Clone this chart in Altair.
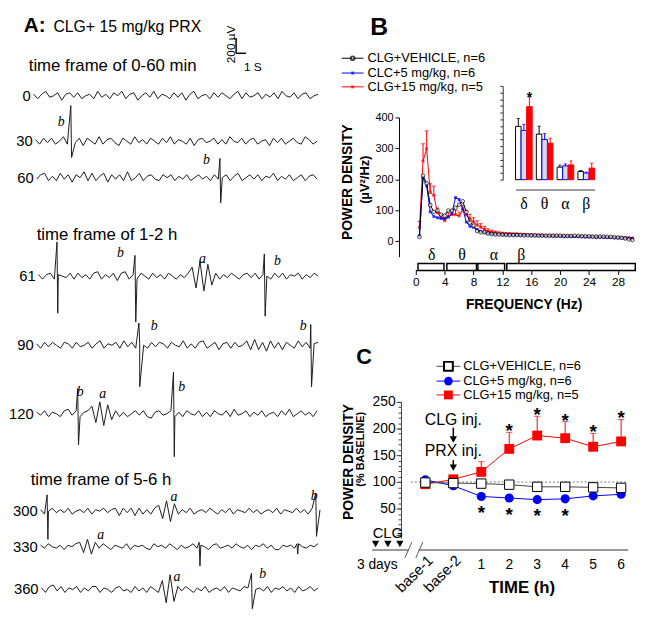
import altair as alt
import pandas as pd

FONT = "Liberation Sans"
SERIF = "Liberation Serif"
ONE = pd.DataFrame({"k": [0]})


def txt(s, x, y, size=13, weight="normal", align="left", baseline="middle",
        angle=0, font=FONT, style="normal", color="black"):
    return alt.Chart(ONE).mark_text(
        text=s, fontSize=size, fontWeight=weight, align=align, baseline=baseline,
        angle=angle, font=font, fontStyle=style, color=color
    ).encode(x=alt.value(x), y=alt.value(y))


def spacer(w, h):
    return alt.Chart(ONE).mark_point(opacity=0).encode(
        x=alt.value(0), y=alt.value(0)).properties(width=w, height=h)


# ======================= Panel A : EEG traces =======================
trace_names = ["0", "30", "60", "61", "90", "120", "300", "330", "360"]
trace_row_px = [82, 128, 165, 264.7, 334.7, 404, 502.7, 538.7, 582]
trace_t0 = [2.2, 2.4, 2.5, 2.7, 2.5, 2.5, 2.9, 2.9, 3.0]
trace_t1 = [31.0, 30.9, 30.9, 31.0, 31.0, 30.9, 31.2, 31.0, 31.0]

# background EEG (units of 20 uV)
eeg_0 = [1,-2,1,3,-1,0,2,-3,1,2,-1,2,-2,0,1,-2,3,-1,1,-2,2,0,3,-2,1,2,-3,0,2,-1,3,-2,1,0,-2,2,-1,2,-3,1,3,-2,0,1,-2,2,-1,2,0,-2,1,3,-2,2,-1,0,2,-2,1,-1,2,-2,3,0,-1,2,-2,1,2,-2,0,1]
eeg_30 = [1,-2,2,-1,2,-2,0,3,-2,1,-1,2,-3,2,0,-2,3,-2,1,2,-1,-3,2,0,-2,3,-1,1,-2,2,0,-2,2,-1,3,-2,1,0,-2,2,-3,1,2,-1,0,2,-2,1,-2,3,0,-1,2,-2,1,2,-2,0,1,-3,2,-1,2,-2,0,2,-1,-2,3,1,-2,0]
eeg_60 = [-1,2,3,-2,1,-2,3,-1,2,-3,2,0,4,-2,3,-2,1,3,-3,2,-1,2,-2,4,-2,0,3,-2,1,2,-1,-2,2,0,2,-2,1,-1,2,-2,0,2,-1,1,-2,2,-1,0,2,-2,1,3,-2,0,2,-1,2,-2,1,0,3,-2,1,-1,2,-2,0,2,-2,1,2,-1]
eeg_61 = [1,-2,1,2,-2,1,0,-1,2,-2,2,-1,1,-2,2,3,-2,1,-1,2,-3,2,3,-2,1,-2,2,0,-2,2,-1,1,-2,2,0,-2,1,-1,2,6,-8,10,-10,8,-6,2,-2,1,-1,2,0,-2,1,2,-1,2,-2,1,0,-2,2,-1,2,-2,1,0,2,-2,1,-1,2,0]
eeg_90 = [1,-2,2,-1,2,0,-2,2,1,-2,2,-1,0,2,-2,1,3,-2,1,0,2,-2,3,-1,2,-2,1,0,-2,2,-1,2,1,-2,2,0,-1,3,-2,1,-2,2,3,-2,0,2,-3,1,2,-2,2,-1,0,3,-3,4,-3,2,-4,3,-2,2,-3,2,0,-2,3,-1,2,-2,1,2]
eeg_120 = [1,-1,2,-2,1,0,-2,2,3,-1,2,-2,1,2,5,-6,8,-8,6,-4,2,-2,1,-2,0,2,-1,2,-2,-3,1,2,-1,0,2,-2,1,-2,2,0,-1,2,-2,1,-2,2,0,-1,2,-2,3,-1,0,2,-2,1,-1,2,-2,0,1,-2,2,-1,3,-2,0,2,-1,1,-2,2]
eeg_300 = [1,-2,0,2,-1,1,-1,2,-2,0,1,-1,2,-2,1,0,2,-1,1,2,-3,2,-1,2,-3,2,-2,1,-2,2,4,-5,7,-7,5,-2,1,-1,2,-2,0,1,-1,2,0,-2,1,-1,2,-2,1,0,-1,2,-1,1,-2,0,1,-1,2,-2,1,0,-1,2,-1,1,-2,2,0,1]
eeg_330 = [1,-1,2,0,-1,1,-2,1,0,2,3,-4,5,-5,3,-1,2,0,-2,1,0,-1,2,-2,1,0,1,-1,-2,2,0,1,-1,2,0,-2,1,-1,0,2,-1,1,0,-2,1,2,-1,0,1,-1,2,0,-1,1,-2,1,0,2,-1,1,-2,-2,1,0,1,-1,2,0,-1,1,0,2]
eeg_360 = [1,-2,2,3,-1,2,-2,1,0,2,-2,1,-1,2,2,-2,1,0,-2,1,2,-1,0,-2,2,-1,1,-2,2,0,-2,6,-9,10,-8,2,-1,2,0,-2,1,-1,2,-2,0,1,-1,2,-2,1,0,-1,2,1,-2,0,1,-1,2,-2,1,0,2,-1,1,-2,2,-1,0,2,-1,1]
eeg_lists = [eeg_0, eeg_30, eeg_60, eeg_61, eeg_90, eeg_120, eeg_300, eeg_330, eeg_360]

# spikes: trace index, time (s), positive and negative peak (20 uV units)
spike_trace = [1, 2, 3, 3, 3, 4, 4, 5, 5, 6, 6, 7, 7, 8]
spike_t = [6.0, 21.1, 4.6, 12.5, 25.6, 12.9, 30.3, 6.7, 16.4, 3.6, 30.8, 19.0, 28.9, 24.3]
spike_up = [24, 13, 23, 14, 15, 15, 14, 17, 28, 11, 12, 3, 2, 11]
spike_down = [-11, -17, -25, -31, -27, -28, -28, -21, -29, -19, -17, -13, -5, -13]

# hand-written "a"/"b" marks
ann_txt = ["b", "b", "b", "a", "b", "b", "b", "b", "a", "b", "a", "b", "a", "a", "b"]
ann_trace = [1, 2, 3, 3, 3, 4, 4, 5, 5, 5, 6, 6, 7, 8, 8]
ann_t = [5.0, 19.7, 11.0, 19.3, 26.9, 14.4, 29.5, 6.9, 9.2, 17.2, 16.4, 30.6, 9.0, 16.7, 25.4]
ann_up_px = [19, 18, 23.5, 17.7, 15.7, 19.7, 19.7, 22, 20, 27, 14.5, 15.7, 11.7, 13, 16]

A_W, A_H = 322, 601
UNIT_PX = 1.5  # px per 20 uV
ax_t = alt.Scale(domain=[0, A_W / 10], nice=False, zero=False)
ax_v = alt.Scale(domain=[0, A_H / UNIT_PX], nice=False, zero=False)


def base_of(k):
    return (A_H - trace_row_px[k]) / UNIT_PX


rows = []
for k, name in enumerate(trace_names):
    seq = eeg_lists[k]
    n = len(seq)
    for i, v in enumerate(seq):
        t = trace_t0[k] + (trace_t1[k] - trace_t0[k]) * i / (n - 1)
        rows.append((name, t, base_of(k) + v))
for k, t, up, dn in zip(spike_trace, spike_t, spike_up, spike_down):
    rows.append((trace_names[k], t - 0.04, base_of(k) + up))
    rows.append((trace_names[k], t + 0.04, base_of(k) + dn))
dfA = pd.DataFrame(rows, columns=["trace", "t", "v"]).sort_values(["trace", "t"]).reset_index(drop=True)
dfA["o"] = range(len(dfA))

traces = alt.Chart(dfA).mark_line(color="#1a1a1a", strokeWidth=1).encode(
    x=alt.X("t:Q", scale=ax_t, axis=None),
    y=alt.Y("v:Q", scale=ax_v, axis=None),
    detail="trace:N", order="o:Q")

lab_df = pd.DataFrame({"name": trace_names, "t": trace_t0,
                       "v": [base_of(k) for k in range(len(trace_names))]})
trace_labels = alt.Chart(lab_df).mark_text(align="right", baseline="middle", fontSize=15, dx=-3).encode(
    x=alt.X("t:Q", scale=ax_t, axis=None), y=alt.Y("v:Q", scale=ax_v, axis=None), text="name:N")

ann_df = pd.DataFrame({"s": ann_txt, "t": ann_t,
                       "v": [base_of(k) + u / UNIT_PX for k, u in zip(ann_trace, ann_up_px)]})
ann_marks = alt.Chart(ann_df).mark_text(font=SERIF, fontStyle="italic", fontSize=14, baseline="middle").encode(
    x=alt.X("t:Q", scale=ax_t, axis=None), y=alt.Y("v:Q", scale=ax_v, axis=None), text="s:N")

# scale bar: 200 uV (10 units) and 1 s
bar_t, bar_v = 22.7, (A_H - 39) / UNIT_PX
bar_df = pd.DataFrame({"x0": [bar_t, bar_t], "x1": [bar_t, bar_t + 1],
                       "y0": [bar_v, bar_v], "y1": [bar_v + 200 / 20, bar_v]})
scale_bar = alt.Chart(bar_df).mark_rule(color="black", strokeWidth=1.5).encode(
    x=alt.X("x0:Q", scale=ax_t, axis=None), x2="x1:Q",
    y=alt.Y("y0:Q", scale=ax_v, axis=None), y2="y1:Q")

A = alt.layer(
    traces, trace_labels, ann_marks, scale_bar,
    txt("A:", 12, 11, size=21, weight="bold"),
    txt("CLG+ 15 mg/kg PRX", 42, 17, size=16, baseline="alphabetic"),
    txt("200 µV", 222, 30, size=12, align="center", angle=270),
    txt("1 S", 244, 53, size=12, align="center"),
    txt("time frame of 0-60 min", 17, 52, size=17),
    txt("time frame of 1-2 h", 25, 223, size=17),
    txt("time frame of 5-6 h", 19, 471, size=17),
).properties(width=A_W, height=A_H)

# ======================= Panel B : power spectrum =======================
freq_hz = [0.5,1.0,1.5,2.0,2.5,3.0,3.5,4.0,4.5,5.0,5.5,6.0,6.5,7.0,7.5,8.0,8.5,9.0,9.5,10.0,
           10.5,11.0,11.5,12.0,12.5,13.0,13.5,14.0,14.5,15.0,15.5,16.0,16.5,17.0,17.5,18.0,18.5,19.0,19.5,20.0,
           20.5,21.0,21.5,22.0,22.5,23.0,23.5,24.0,24.5,25.0,25.5,26.0,26.5,27.0,27.5,28.0,28.5,29.0,29.5,30.0]
psd_vehicle = [14,212,187,117,95,99,86,83,99,99,108,118,129,94,60,50,33,29,29,25,
               23,22,22,21,21,20,20,20,20,19,19,19,19,18,18,18,18,18,18,18,
               17,17,17,18,17,16,16,16,15,15,15,15,14,14,13,12,11,9,6,4]
psd_5mg = [18,205,179,95,80,76,74,73,78,90,141,135,105,62,48,45,38,32,28,26,
           24,23,22,21,21,20,20,20,19,19,19,18,18,18,18,17,17,17,16,16,
           16,16,15,15,15,15,14,14,14,13,13,13,12,12,11,11,10,10,9,8]
psd_15mg = [44,259,299,158,148,92,75,66,80,86,86,82,100,85,72,62,52,45,38,32,
            30,28,26,25,24,24,23,23,22,22,21,21,20,20,20,19,19,18,18,18,
            17,17,17,16,16,16,15,15,15,14,14,14,13,13,12,12,12,11,11,10]
psd_15mg_err = [20,56,58,28,30,15,10,10,12,14,14,12,15,15,15,14,14,12,10,8,
                6,5,4,4,3,3,3,3,3,3,2,2,2,2,2,2,2,2,2,2,
                2,2,2,2,2,2,2,2,2,2,2,2,2,2,2,2,2,2,2,2]

band_names = ["δ", "θ", "α", "β"]
band_lo = [0.3, 4.3, 8.6, 12.6]
band_hi = [3.9, 8.4, 12.3, 30.4]
band_label_hz = [2.2, 6.4, 10.8, 14.6]

# inset: band power (relative units)
inset_groups = ["CLG+VEHICLE", "CLC+5 mg/kg", "CLG+15 mg/kg"]
inset_vehicle = [7.95, 6.8, 1.87, 1.22]
inset_vehicle_err = [1.18, 1.18, 0.3, 0.15]
inset_5mg = [7.36, 6.0, 2.06, 0.99]
inset_5mg_err = [0.88, 0.88, 0.3, 0.15]
inset_15mg = [10.9, 5.45, 2.2, 1.72]
inset_15mg_err = [1.47, 0.74, 0.6, 0.74]

B_L = 47            # gap between panel left edge and the 0 Hz position
B_W, B_H = 270, 141
HZ_PX = (B_W - B_L) / 30.5
fx = alt.Scale(domain=[-B_L / HZ_PX, 30.5], nice=False, zero=False)
fy = alt.Scale(domain=[-50, 400], nice=False, zero=False)
dfB = pd.DataFrame({"f": freq_hz, "veh": psd_vehicle, "c5": psd_5mg, "c15": psd_15mg, "e15": psd_15mg_err})
dfB["hi"] = dfB["c15"] + dfB["e15"]


def BX():
    return alt.X("f:Q", scale=fx, axis=None)


def BY(field):
    return alt.Y(field, scale=fy, axis=None)


band_df = pd.DataFrame({"name": band_names, "lo": band_lo, "hi": band_hi, "lab": band_label_hz})
b_boxes = alt.Chart(band_df).mark_rect(fill="white", stroke="black", strokeWidth=1.5).encode(
    x=alt.X("lo:Q", scale=fx, axis=None), x2="hi:Q", y=alt.value(148), y2=alt.value(155))
b_box_lab = alt.Chart(band_df).mark_text(font=SERIF, fontSize=16, baseline="middle").encode(
    x=alt.X("lab:Q", scale=fx, axis=None), y=alt.value(139), text="name:N")
b_axis_line = alt.Chart(pd.DataFrame({"x0": [0], "x1": [30.5]})).mark_rule(color="black", strokeWidth=1).encode(
    x=alt.X("x0:Q", scale=fx, axis=None), x2="x1:Q", y=alt.value(155))
b_xtitle = alt.Chart(pd.DataFrame({"x": [15.0]})).mark_text(
    text="FREQUENCY (Hz)", fontSize=14, fontWeight="bold", baseline="middle").encode(
    x=alt.X("x:Q", scale=fx, axis=None), y=alt.value(190))

b_red_err = alt.Chart(dfB).mark_rule(color="red", strokeWidth=1).encode(x=BX(), y=BY("c15:Q"), y2="hi:Q")
b_red_cap = alt.Chart(dfB).mark_point(shape="stroke", size=16, color="red", strokeWidth=1).encode(x=BX(), y=BY("hi:Q"))
b_red_line = alt.Chart(dfB).mark_line(color="red", strokeWidth=1).encode(x=BX(), y=BY("c15:Q"))
b_red_pts = alt.Chart(dfB).mark_point(shape="square", size=9, filled=True, color="red").encode(x=BX(), y=BY("c15:Q"))
b_blue_line = alt.Chart(dfB).mark_line(color="blue", strokeWidth=1).encode(x=BX(), y=BY("c5:Q"))
b_blue_pts = alt.Chart(dfB).mark_point(shape="square", size=9, filled=True, color="blue").encode(x=BX(), y=BY("c5:Q"))
b_veh_line = alt.Chart(dfB).mark_line(color="black", strokeWidth=1).encode(
    x=alt.X("f:Q", scale=fx, axis=alt.Axis(
        orient="bottom", offset=14, values=[0, 4, 8, 12, 16, 20, 24, 28], tickSize=4, domain=False,
        labelFontSize=12, labelPadding=2, title=None)),
    y=alt.Y("veh:Q", scale=fy, axis=alt.Axis(
        orient="left", offset=-30, values=[0, 100, 200, 300, 400], tickSize=4,
        labelFontSize=11, labelPadding=2, title=None)))
b_veh_pts = alt.Chart(dfB).mark_point(shape="circle", size=14, filled=True, fill="white",
                                      stroke="black", strokeWidth=1).encode(x=BX(), y=BY("veh:Q"))

leg_y = [-60, -45, -31]
lx = B_L
b_legend = [
    alt.Chart(ONE).mark_rule(color="black").encode(x=alt.value(lx - 75), x2=alt.value(lx - 53), y=alt.value(leg_y[0])),
    alt.Chart(ONE).mark_point(shape="circle", size=14, filled=True, fill="white", stroke="black").encode(
        x=alt.value(lx - 64), y=alt.value(leg_y[0])),
    alt.Chart(ONE).mark_rule(color="blue").encode(x=alt.value(lx - 75), x2=alt.value(lx - 53), y=alt.value(leg_y[1])),
    alt.Chart(ONE).mark_point(shape="square", size=9, filled=True, color="blue").encode(
        x=alt.value(lx - 64), y=alt.value(leg_y[1])),
    alt.Chart(ONE).mark_rule(color="red").encode(x=alt.value(lx - 75), x2=alt.value(lx - 53), y=alt.value(leg_y[2])),
    alt.Chart(ONE).mark_point(shape="square", size=9, filled=True, color="red").encode(
        x=alt.value(lx - 64), y=alt.value(leg_y[2])),
    txt("CLG+VEHICLE, n=6", lx - 49, leg_y[0], size=13),
    txt("CLC+5 mg/kg, n=6", lx - 49, leg_y[1], size=13),
    txt("CLG+15 mg/kg, n=5", lx - 49, leg_y[2], size=13),
]

ins_rows = []
for vals, errs, g in [(inset_vehicle, inset_vehicle_err, inset_groups[0]),
                      (inset_5mg, inset_5mg_err, inset_groups[1]),
                      (inset_15mg, inset_15mg_err, inset_groups[2])]:
    for b, v, e in zip(band_names, vals, errs):
        ins_rows.append((b, g, v, v + e))
dfI = pd.DataFrame(ins_rows, columns=["band", "grp", "val", "hi"])
dfI["star"] = ["*" if (b == "δ" and g == inset_groups[2]) else "" for b, g in zip(dfI["band"], dfI["grp"])]

ibx = alt.Scale(domain=band_names, range=[B_L + 101, B_L + 181], paddingInner=0.2, paddingOuter=0)
ibo = alt.Scale(domain=inset_groups, paddingInner=0, paddingOuter=0)
iby = alt.Scale(domain=[0, 14], range=[63, -32], nice=False, zero=True)
fill_sc = alt.Scale(domain=inset_groups, range=["white", "#d8d8f2", "red"])
line_sc = alt.Scale(domain=inset_groups, range=["black", "blue", "red"])

i_bars = alt.Chart(dfI).mark_bar(strokeWidth=1).encode(
    x=alt.X("band:N", scale=ibx, sort=band_names, axis=alt.Axis(
        orient="bottom", offset=-68, ticks=False, labelFont=SERIF, labelFontSize=16,
        labelPadding=6, labelAngle=0, title=None, domainColor="#333")),
    xOffset=alt.XOffset("grp:N", scale=ibo, sort=inset_groups),
    y=alt.Y("val:Q", scale=iby, axis=alt.Axis(
        orient="left", offset=-(B_L + 88), values=list(range(0, 15)), tickSize=3, labels=False,
        title=None, domainColor="#333", tickColor="#333")),
    fill=alt.Fill("grp:N", scale=fill_sc, legend=None),
    stroke=alt.Stroke("grp:N", scale=line_sc, legend=None))
i_err = alt.Chart(dfI).mark_rule(strokeWidth=1).encode(
    x=alt.X("band:N", scale=ibx, axis=None), xOffset=alt.XOffset("grp:N", scale=ibo),
    y=alt.Y("val:Q", scale=iby, axis=None), y2="hi:Q",
    color=alt.Color("grp:N", scale=line_sc, legend=None))
i_cap = alt.Chart(dfI).mark_point(shape="stroke", size=12, strokeWidth=1).encode(
    x=alt.X("band:N", scale=ibx, axis=None), xOffset=alt.XOffset("grp:N", scale=ibo),
    y=alt.Y("hi:Q", scale=iby, axis=None),
    color=alt.Color("grp:N", scale=line_sc, legend=None))
i_star = alt.Chart(dfI).mark_text(fontSize=14, fontWeight="bold", baseline="alphabetic", dy=5).encode(
    x=alt.X("band:N", scale=ibx, axis=None), xOffset=alt.XOffset("grp:N", scale=ibo),
    y=alt.Y("hi:Q", scale=iby, axis=None), text="star:N")

B = alt.layer(
    b_boxes, b_box_lab, b_axis_line, b_xtitle, b_red_err, b_red_cap, b_red_line, b_red_pts,
    b_blue_line, b_blue_pts, b_veh_line, b_veh_pts, *b_legend,
    txt("B", lx - 37, -92, size=25, weight="bold", align="center"),
    txt("POWER  DENSITY", lx - 68.5, 65.5, size=14, weight="bold", align="center", angle=270),
    txt("(µV²/Hz)", lx - 51, 63, size=13, weight="bold", align="center", angle=270),
    i_bars, i_err, i_cap, i_star,
).resolve_scale(x="independent", y="independent").properties(width=B_W, height=B_H)

# ======================= Panel C : time course =======================
c_labels = ["base-1", "base-2", "1", "2", "3", "4", "5", "6"]
c_pos = [0, 1, 2, 3, 4, 5, 6, 7]
c_vehicle = [99, 98, 97, 95, 91, 91, 90, 89]
c_5mg = [104, 93, 73, 70, 67, 68.5, 74, 77]
c_15mg = [96, 105, 119, 162, 187, 182, 166, 176]
c_15mg_err = [3, 4, 19, 31, 36, 31, 25, 41]
c_15mg_sig = [0, 0, 0, 1, 1, 1, 1, 1]
c_5mg_sig = [0, 0, 1, 1, 1, 1, 0, 0]
clg_days_pos = [-1.78, -1.34, -0.91]

C_W, C_H = 262, 138
xs = alt.Scale(domain=[-2.0, 7.25], nice=False, zero=False)
ys = alt.Scale(domain=[-5, 250], nice=False, zero=False)
dfC = pd.DataFrame({"x": c_pos, "lab": c_labels, "veh": c_vehicle, "c5": c_5mg,
                    "c15": c_15mg, "err": c_15mg_err, "s15": c_15mg_sig, "s5": c_5mg_sig})
dfC["hi"] = dfC["c15"] + dfC["err"]


def CX(field="x:Q"):
    return alt.X(field, scale=xs, axis=None)


def CY(field):
    return alt.Y(field, scale=ys, axis=None)


major_axis = alt.Axis(orient="left", offset=-32, values=[0, 50, 100, 150, 200, 250], tickSize=5,
                      labelFontSize=14, labelPadding=1, title=None,
                      labelExpr="datum.value == 0 ? '' : datum.label",
                      domainColor="#444", tickColor="#444")
minor_axis = alt.Axis(orient="left", offset=-32, values=list(range(0, 251, 10)), tickSize=3,
                      labels=False, domain=False, title=None, tickColor="#444")

ref_df = pd.DataFrame({"x0": [-0.52], "x1": [7.25], "y": [100]})
c_ref = alt.Chart(ref_df).mark_rule(color="#777", strokeDash=[2, 2], strokeWidth=1).encode(
    x=CX("x0:Q"), x2="x1:Q", y=CY("y:Q"))
c_blue_line = alt.Chart(dfC).mark_line(color="blue", strokeWidth=1).encode(
    x=CX(), y=alt.Y("c5:Q", scale=ys, axis=minor_axis))
c_blue_pts = alt.Chart(dfC).mark_point(shape="circle", size=85, filled=True, color="blue", opacity=1).encode(
    x=CX(), y=CY("c5:Q"))
c_red_err = alt.Chart(dfC).mark_rule(color="red", strokeWidth=1).encode(x=CX(), y=CY("c15:Q"), y2="hi:Q")
c_red_cap = alt.Chart(dfC).mark_point(shape="stroke", size=40, color="red", strokeWidth=1).encode(
    x=CX(), y=CY("hi:Q"))
c_red_line = alt.Chart(dfC).mark_line(color="red", strokeWidth=1).encode(x=CX(), y=CY("c15:Q"))
c_red_pts = alt.Chart(dfC).mark_point(shape="square", size=100, filled=True, color="red", opacity=1).encode(
    x=CX(), y=CY("c15:Q"))
c_veh_line = alt.Chart(dfC).mark_line(color="#444", strokeWidth=1).encode(
    x=CX(), y=alt.Y("veh:Q", scale=ys, axis=major_axis))
c_veh_pts = alt.Chart(dfC).mark_point(shape="square", size=90, filled=True, fill="white",
                                      stroke="black", strokeWidth=1, opacity=1).encode(x=CX(), y=CY("veh:Q"))
c_star15 = alt.Chart(dfC).transform_filter("datum.s15 == 1").mark_text(
    text="*", fontSize=19, fontWeight="bold", baseline="alphabetic", dy=5).encode(x=CX(), y=CY("hi:Q"))
c_star5 = alt.Chart(dfC).transform_filter("datum.s5 == 1").mark_text(
    text="*", fontSize=19, fontWeight="bold", baseline="alphabetic", dy=23).encode(x=CX(), y=CY("c5:Q"))

# injection arrows (at base-2)
arrow_df = pd.DataFrame({"x": [1, 1], "y0": [201.7, 141], "y1": [184, 130], "head": [179.6, 127]})
c_arrow = alt.Chart(arrow_df).mark_rule(color="black", strokeWidth=1.5).encode(
    x=CX(), y=CY("y0:Q"), y2="y1:Q")
c_arrow_head = alt.Chart(arrow_df).mark_point(shape="triangle-down", size=55, filled=True,
                                              color="black", opacity=1).encode(x=CX(), y=CY("head:Q"))
inj_df = pd.DataFrame({"x": [1, 1], "y": [216.7, 157.6], "t": ["CLG inj.", "PRX inj."]})
c_inj = alt.Chart(inj_df).mark_text(fontSize=16, baseline="middle").encode(x=CX(), y=CY("y:Q"), text="t:N")

clg_df = pd.DataFrame({"x": clg_days_pos})
c_clg_tri = alt.Chart(clg_df).mark_point(shape="triangle-down", size=55, filled=True, color="black",
                                         opacity=1).encode(x=CX(), y=alt.value(144))
c_clg_txt = alt.Chart(pd.DataFrame({"x": [clg_days_pos[1]]})).mark_text(
    text="CLG", fontSize=15, baseline="middle").encode(x=CX(), y=alt.value(133))

# broken x axis
axis_df = pd.DataFrame({"x0": [-1.9, -0.24], "x1": [-0.59, 7.25]})
c_axis = alt.Chart(axis_df).mark_rule(color="#777", strokeWidth=1.5).encode(
    x=CX("x0:Q"), x2="x1:Q", y=alt.value(150))
slash_df = pd.DataFrame({"x0": [-0.73, -0.34], "x1": [-0.48, -0.09]})
c_slash = alt.Chart(slash_df).mark_rule(color="#555", strokeWidth=1).encode(
    x=CX("x0:Q"), x2="x1:Q", y=alt.value(158), y2=alt.value(142))

hour_df = dfC[dfC["x"] >= 2]
c_hour_lab = alt.Chart(hour_df).mark_text(fontSize=14, baseline="middle").encode(
    x=CX(), y=alt.value(165), text="lab:N")
base_lab_df = pd.DataFrame({"x": [0.18, 1.18], "lab": c_labels[:2]})
c_base_lab = alt.Chart(base_lab_df).mark_text(fontSize=15, angle=315, align="right", baseline="middle").encode(
    x=CX(), y=alt.value(158), text="lab:N")
c_days = alt.Chart(pd.DataFrame({"x": [-1.72]})).mark_text(text="3 days", fontSize=14, baseline="middle").encode(
    x=CX(), y=alt.value(165))
c_time = alt.Chart(pd.DataFrame({"x": [3.46]})).mark_text(
    text="TIME (h)", fontSize=17, fontWeight="bold", baseline="middle").encode(x=CX(), y=alt.value(189))

cleg_y = [-36, -21, -7]
c_legend = [
    alt.Chart(ONE).mark_rule(color="#444").encode(x=alt.value(68), x2=alt.value(92), y=alt.value(cleg_y[0])),
    alt.Chart(ONE).mark_point(shape="square", size=80, filled=True, fill="white", stroke="black",
                              opacity=1).encode(x=alt.value(80), y=alt.value(cleg_y[0])),
    alt.Chart(ONE).mark_rule(color="blue").encode(x=alt.value(68), x2=alt.value(92), y=alt.value(cleg_y[1])),
    alt.Chart(ONE).mark_point(shape="circle", size=75, filled=True, color="blue", opacity=1).encode(
        x=alt.value(80), y=alt.value(cleg_y[1])),
    alt.Chart(ONE).mark_rule(color="red").encode(x=alt.value(68), x2=alt.value(92), y=alt.value(cleg_y[2])),
    alt.Chart(ONE).mark_point(shape="square", size=80, filled=True, color="red", opacity=1).encode(
        x=alt.value(80), y=alt.value(cleg_y[2])),
    txt("CLG+VEHICLE, n=6", 95, cleg_y[0], size=13),
    txt("CLG+5 mg/kg, n=6", 95, cleg_y[1], size=13),
    txt("CLG+15 mg/kg, n=5", 95, cleg_y[2], size=13),
]

C = alt.layer(
    c_ref, c_blue_line, c_blue_pts, c_red_err, c_red_cap, c_red_line, c_red_pts,
    c_veh_line, c_veh_pts, c_star15, c_star5, c_arrow, c_arrow_head, c_inj,
    c_clg_tri, c_clg_txt, c_axis, c_slash, c_hour_lab, c_base_lab, c_days, c_time,
    *c_legend,
    txt("C", -5.5, -45.5, size=22, weight="bold", align="center"),
    txt("POWER DENSITY", -21, 61, size=14, weight="bold", align="center", angle=270),
    txt("(% BASELINE)", -8, 48, size=11, weight="bold", align="center", angle=270),
).resolve_axis(y="independent").properties(width=C_W, height=C_H)

# ======================= layout =======================
right = alt.vconcat(
    spacer(B_W, 104),
    B,
    spacer(B_W, 147),
    C,
    spacing=0, bounds="flush")

chart = alt.hconcat(A, right, spacing=40, bounds="flush").properties(padding=0).configure(
    font=FONT).configure_view(stroke=None).configure_axis(
    grid=False, labelFont=FONT, titleFont=FONT, labelColor="black", titleColor="black",
    domainColor="black", tickColor="black")

chart.save("out.html", embed_options={"renderer": "svg", "actions": False})
